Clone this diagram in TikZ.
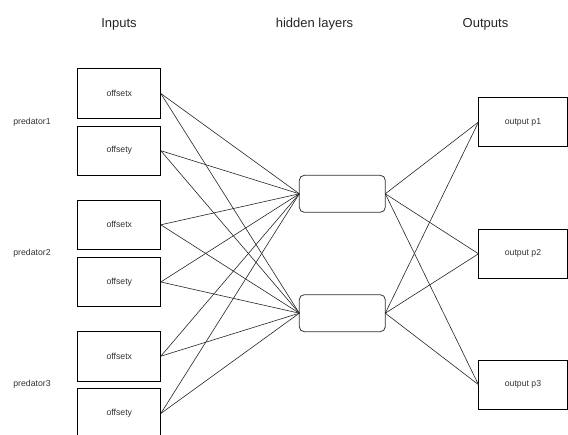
\documentclass[tikz,border=0pt]{standalone}
\usepackage{fontspec}
\setmainfont{Liberation Sans}
\begin{document}
\begin{tikzpicture}[x=1pt,y=-1pt,
  inbox/.style={draw=black, line width=0.8pt, minimum width=83pt, minimum height=49.5pt, inner sep=0pt, outer sep=0pt, font=\fontsize{8.7}{10}\selectfont, text=black!80},
  hidbox/.style={draw=black!80, line width=0.8pt, rounded corners=5pt, minimum width=86pt, minimum height=37pt, inner sep=0pt, outer sep=0pt},
  outbox/.style={draw=black, line width=0.8pt, minimum width=89pt, minimum height=49.5pt, inner sep=0pt, outer sep=0pt, font=\fontsize{8.7}{10}\selectfont, text=black!80},
  title/.style={font=\fontsize{13}{15}\selectfont, text=black!85},
  plabel/.style={font=\fontsize{8.7}{10}\selectfont, text=black!80},
  link/.style={draw=black!85, line width=0.6pt}]
\clip (0,0) rectangle (568,435);
\fill[white] (0,0) rectangle (568,435);
% titles
\node[title] (tin) at (119,24) {Inputs};
\node[title] (thid) at (314.5,24) {hidden layers};
\node[title] (tout) at (485.5,24) {Outputs};
% predator labels
\node[plabel] (p1) at (32,122.7) {predator1};
\node[plabel] (p2) at (32,253.3) {predator2};
\node[plabel] (p3) at (32,384.3) {predator3};
% inputs
\node[inbox] (i1) at (119.3,93.5) {offsetx};
\node[inbox] (i2) at (119.3,150.7) {offsety};
\node[inbox] (i3) at (119.3,224.8) {offsetx};
\node[inbox] (i4) at (119.3,282) {offsety};
\node[inbox] (i5) at (119.3,356.2) {offsetx};
\node[inbox] (i6) at (119.3,413.5) {offsety};
% hidden
\node[hidbox] (h1) at (342.3,193.8) {};
\node[hidbox] (h2) at (342.3,313.2) {};
% outputs
\node[outbox] (o1) at (523,122) {output p1};
\node[outbox] (o2) at (523,253.8) {output p2};
\node[outbox] (o3) at (523,384.7) {output p3};
% links
\foreach \i in {i1,i2,i3,i4,i5,i6}{
  \foreach \h in {h1,h2}{
    \draw[link] (\i.east) -- (\h.west);
  }
}
\foreach \h in {h1,h2}{
  \foreach \o in {o1,o2,o3}{
    \draw[link] (\h.east) -- (\o.west);
  }
}
\end{tikzpicture}
\end{document}
